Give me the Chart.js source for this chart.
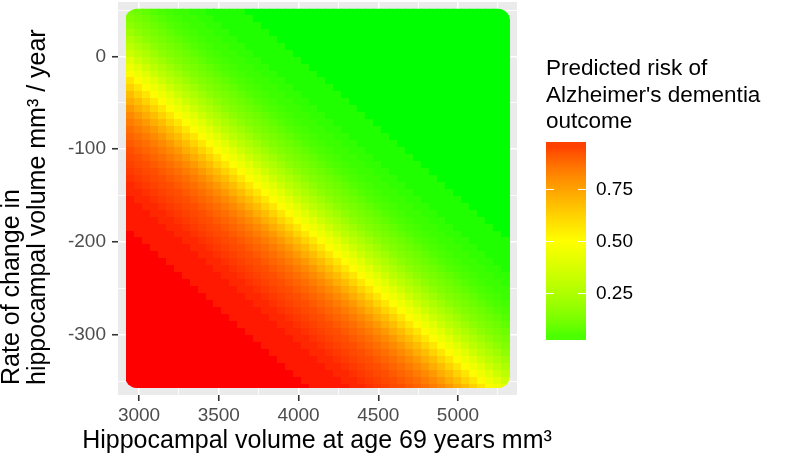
<!DOCTYPE html>
<html>
<head>
<meta charset="utf-8">
<script src="https://cdn.jsdelivr.net/npm/chart.js@4.4.1/dist/chart.umd.min.js"></script>
<style>
  html, body { margin: 0; padding: 0; background: #fff; }
</style>
</head>
<body>
<canvas id="myChart" width="788" height="466"></canvas>
<script>
// hippocampal volume (x) at the centre of each column of cells
const volumeCols = [2945, 2995, 3045, 3095, 3145, 3195, 3245, 3295, 3345, 3395, 3445, 3495,
                    3545, 3595, 3645, 3695, 3745, 3795, 3845, 3895, 3945, 3995, 4045, 4095,
                    4145, 4195, 4245, 4295, 4345, 4395, 4445, 4495, 4545, 4595, 4645, 4695,
                    4745, 4795, 4845, 4895, 4945, 4995, 5045, 5095, 5145, 5195, 5245, 5295];
// rate of change (y) at the centre of each row of cells, top to bottom
const rateRows = [48, 40.5, 33, 25.5, 18, 10.5, 3, -4.5, -12, -19.5, -27, -34.5, -42, -49.5,
                  -57, -64.5, -72, -79.5, -87, -94.5, -102, -109.5, -117, -124.5, -132, -139.5,
                  -147, -154.5, -162, -169.5, -177, -184.5, -192, -199.5, -207, -214.5, -222,
                  -229.5, -237, -244.5, -252, -259.5, -267, -274.5, -282, -289.5, -297, -304.5,
                  -312, -319.5, -327, -334.5, -342, -349.5, -357];
// predicted risk, one row per rateRows entry
const riskGrid = [
  [.12,.10,.08,.06,.05,.04,.03,.03,.02,.02,.01,.01,.01,.01,.01,0,0,0,0,0,0,0,0,0,0,0,0,0,0,0,0,0,0,0,0,0,0,0,0,0,0,0,0,0,0,0,0,0],
  [.14,.12,.10,.08,.06,.05,.04,.03,.03,.02,.02,.01,.01,.01,.01,.01,0,0,0,0,0,0,0,0,0,0,0,0,0,0,0,0,0,0,0,0,0,0,0,0,0,0,0,0,0,0,0,0],
  [.17,.14,.12,.10,.08,.06,.05,.04,.03,.03,.02,.02,.01,.01,.01,.01,.01,0,0,0,0,0,0,0,0,0,0,0,0,0,0,0,0,0,0,0,0,0,0,0,0,0,0,0,0,0,0,0],
  [.21,.17,.14,.12,.10,.08,.06,.05,.04,.03,.03,.02,.02,.01,.01,.01,.01,.01,0,0,0,0,0,0,0,0,0,0,0,0,0,0,0,0,0,0,0,0,0,0,0,0,0,0,0,0,0,0],
  [.25,.21,.17,.14,.12,.10,.08,.06,.05,.04,.03,.03,.02,.02,.01,.01,.01,.01,.01,0,0,0,0,0,0,0,0,0,0,0,0,0,0,0,0,0,0,0,0,0,0,0,0,0,0,0,0,0],
  [.29,.25,.21,.17,.14,.12,.10,.08,.06,.05,.04,.03,.03,.02,.02,.01,.01,.01,.01,.01,0,0,0,0,0,0,0,0,0,0,0,0,0,0,0,0,0,0,0,0,0,0,0,0,0,0,0,0],
  [.34,.29,.25,.21,.17,.14,.12,.10,.08,.06,.05,.04,.03,.03,.02,.02,.01,.01,.01,.01,.01,0,0,0,0,0,0,0,0,0,0,0,0,0,0,0,0,0,0,0,0,0,0,0,0,0,0,0],
  [.40,.34,.29,.25,.21,.17,.14,.12,.10,.08,.06,.05,.04,.03,.03,.02,.02,.01,.01,.01,.01,.01,0,0,0,0,0,0,0,0,0,0,0,0,0,0,0,0,0,0,0,0,0,0,0,0,0,0],
  [.45,.40,.34,.29,.25,.21,.17,.14,.12,.10,.08,.06,.05,.04,.03,.03,.02,.02,.01,.01,.01,.01,.01,0,0,0,0,0,0,0,0,0,0,0,0,0,0,0,0,0,0,0,0,0,0,0,0,0],
  [.51,.45,.40,.34,.29,.25,.21,.17,.14,.12,.10,.08,.06,.05,.04,.03,.03,.02,.02,.01,.01,.01,.01,.01,0,0,0,0,0,0,0,0,0,0,0,0,0,0,0,0,0,0,0,0,0,0,0,0],
  [.57,.51,.45,.40,.34,.29,.25,.21,.17,.14,.12,.10,.08,.06,.05,.04,.03,.03,.02,.02,.01,.01,.01,.01,.01,0,0,0,0,0,0,0,0,0,0,0,0,0,0,0,0,0,0,0,0,0,0,0],
  [.62,.57,.51,.45,.40,.34,.29,.25,.21,.17,.14,.12,.10,.08,.06,.05,.04,.03,.03,.02,.02,.01,.01,.01,.01,.01,0,0,0,0,0,0,0,0,0,0,0,0,0,0,0,0,0,0,0,0,0,0],
  [.68,.62,.57,.51,.45,.40,.34,.29,.25,.21,.17,.14,.12,.10,.08,.06,.05,.04,.03,.03,.02,.02,.01,.01,.01,.01,.01,0,0,0,0,0,0,0,0,0,0,0,0,0,0,0,0,0,0,0,0,0],
  [.72,.68,.62,.57,.51,.45,.40,.34,.29,.25,.21,.17,.14,.12,.10,.08,.06,.05,.04,.03,.03,.02,.02,.01,.01,.01,.01,.01,0,0,0,0,0,0,0,0,0,0,0,0,0,0,0,0,0,0,0,0],
  [.77,.72,.68,.62,.57,.51,.45,.40,.34,.29,.25,.21,.17,.14,.12,.10,.08,.06,.05,.04,.03,.03,.02,.02,.01,.01,.01,.01,.01,0,0,0,0,0,0,0,0,0,0,0,0,0,0,0,0,0,0,0],
  [.81,.77,.72,.68,.62,.57,.51,.45,.40,.34,.29,.25,.21,.17,.14,.12,.10,.08,.06,.05,.04,.03,.03,.02,.02,.01,.01,.01,.01,.01,0,0,0,0,0,0,0,0,0,0,0,0,0,0,0,0,0,0],
  [.84,.81,.77,.72,.68,.62,.57,.51,.45,.40,.34,.29,.25,.21,.17,.14,.12,.10,.08,.06,.05,.04,.03,.03,.02,.02,.01,.01,.01,.01,.01,0,0,0,0,0,0,0,0,0,0,0,0,0,0,0,0,0],
  [.87,.84,.81,.77,.72,.68,.62,.57,.51,.45,.40,.34,.29,.25,.21,.17,.14,.12,.10,.08,.06,.05,.04,.03,.03,.02,.02,.01,.01,.01,.01,.01,0,0,0,0,0,0,0,0,0,0,0,0,0,0,0,0],
  [.89,.87,.84,.81,.77,.72,.68,.62,.57,.51,.45,.40,.34,.29,.25,.21,.17,.14,.12,.10,.08,.06,.05,.04,.03,.03,.02,.02,.01,.01,.01,.01,.01,0,0,0,0,0,0,0,0,0,0,0,0,0,0,0],
  [.91,.89,.87,.84,.81,.77,.72,.68,.62,.57,.51,.45,.40,.34,.29,.25,.21,.17,.14,.12,.10,.08,.06,.05,.04,.03,.03,.02,.02,.01,.01,.01,.01,.01,0,0,0,0,0,0,0,0,0,0,0,0,0,0],
  [.93,.91,.89,.87,.84,.81,.77,.72,.68,.62,.57,.51,.45,.40,.34,.29,.25,.21,.17,.14,.12,.10,.08,.06,.05,.04,.03,.03,.02,.02,.01,.01,.01,.01,.01,0,0,0,0,0,0,0,0,0,0,0,0,0],
  [.94,.93,.91,.89,.87,.84,.81,.77,.72,.68,.62,.57,.51,.45,.40,.34,.29,.25,.21,.17,.14,.12,.10,.08,.06,.05,.04,.03,.03,.02,.02,.01,.01,.01,.01,.01,0,0,0,0,0,0,0,0,0,0,0,0],
  [.95,.94,.93,.91,.89,.87,.84,.81,.77,.72,.68,.62,.57,.51,.45,.40,.34,.29,.25,.21,.17,.14,.12,.10,.08,.06,.05,.04,.03,.03,.02,.02,.01,.01,.01,.01,.01,0,0,0,0,0,0,0,0,0,0,0],
  [.96,.95,.94,.93,.91,.89,.87,.84,.81,.77,.72,.68,.62,.57,.51,.45,.40,.34,.29,.25,.21,.17,.14,.12,.10,.08,.06,.05,.04,.03,.03,.02,.02,.01,.01,.01,.01,.01,0,0,0,0,0,0,0,0,0,0],
  [.97,.96,.95,.94,.93,.91,.89,.87,.84,.81,.77,.72,.68,.62,.57,.51,.45,.40,.34,.29,.25,.21,.17,.14,.12,.10,.08,.06,.05,.04,.03,.03,.02,.02,.01,.01,.01,.01,.01,0,0,0,0,0,0,0,0,0],
  [.98,.97,.96,.95,.94,.93,.91,.89,.87,.84,.81,.77,.72,.68,.62,.57,.51,.45,.40,.34,.29,.25,.21,.17,.14,.12,.10,.08,.06,.05,.04,.03,.03,.02,.02,.01,.01,.01,.01,.01,0,0,0,0,0,0,0,0],
  [.98,.98,.97,.96,.95,.94,.93,.91,.89,.87,.84,.81,.77,.72,.68,.62,.57,.51,.45,.40,.34,.29,.25,.21,.17,.14,.12,.10,.08,.06,.05,.04,.03,.03,.02,.02,.01,.01,.01,.01,.01,0,0,0,0,0,0,0],
  [.99,.98,.98,.97,.96,.95,.94,.93,.91,.89,.87,.84,.81,.77,.72,.68,.62,.57,.51,.45,.40,.34,.29,.25,.21,.17,.14,.12,.10,.08,.06,.05,.04,.03,.03,.02,.02,.01,.01,.01,.01,.01,0,0,0,0,0,0],
  [.99,.99,.98,.98,.97,.96,.95,.94,.93,.91,.89,.87,.84,.81,.77,.72,.68,.62,.57,.51,.45,.40,.34,.29,.25,.21,.17,.14,.12,.10,.08,.06,.05,.04,.03,.03,.02,.02,.01,.01,.01,.01,.01,0,0,0,0,0],
  [.99,.99,.99,.98,.98,.97,.96,.95,.94,.93,.91,.89,.87,.84,.81,.77,.72,.68,.62,.57,.51,.45,.40,.34,.29,.25,.21,.17,.14,.12,.10,.08,.06,.05,.04,.03,.03,.02,.02,.01,.01,.01,.01,.01,0,0,0,0],
  [.99,.99,.99,.99,.98,.98,.97,.96,.95,.94,.93,.91,.89,.87,.84,.81,.77,.72,.68,.62,.57,.51,.45,.40,.34,.29,.25,.21,.17,.14,.12,.10,.08,.06,.05,.04,.03,.03,.02,.02,.01,.01,.01,.01,.01,0,0,0],
  [.99,.99,.99,.99,.99,.98,.98,.97,.96,.95,.94,.93,.91,.89,.87,.84,.81,.77,.72,.68,.62,.57,.51,.45,.40,.34,.29,.25,.21,.17,.14,.12,.10,.08,.06,.05,.04,.03,.03,.02,.02,.01,.01,.01,.01,.01,0,0],
  [1,.99,.99,.99,.99,.99,.98,.98,.97,.96,.95,.94,.93,.91,.89,.87,.84,.81,.77,.72,.68,.62,.57,.51,.45,.40,.34,.29,.25,.21,.17,.14,.12,.10,.08,.06,.05,.04,.03,.03,.02,.02,.01,.01,.01,.01,.01,0],
  [1,1,.99,.99,.99,.99,.99,.98,.98,.97,.96,.95,.94,.93,.91,.89,.87,.84,.81,.77,.72,.68,.62,.57,.51,.45,.40,.34,.29,.25,.21,.17,.14,.12,.10,.08,.06,.05,.04,.03,.03,.02,.02,.01,.01,.01,.01,.01],
  [1,1,1,.99,.99,.99,.99,.99,.98,.98,.97,.96,.95,.94,.93,.91,.89,.87,.84,.81,.77,.72,.68,.62,.57,.51,.45,.40,.34,.29,.25,.21,.17,.14,.12,.10,.08,.06,.05,.04,.03,.03,.02,.02,.01,.01,.01,.01],
  [1,1,1,1,.99,.99,.99,.99,.99,.98,.98,.97,.96,.95,.94,.93,.91,.89,.87,.84,.81,.77,.72,.68,.62,.57,.51,.45,.40,.34,.29,.25,.21,.17,.14,.12,.10,.08,.06,.05,.04,.03,.03,.02,.02,.01,.01,.01],
  [1,1,1,1,1,.99,.99,.99,.99,.99,.98,.98,.97,.96,.95,.94,.93,.91,.89,.87,.84,.81,.77,.72,.68,.62,.57,.51,.45,.40,.34,.29,.25,.21,.17,.14,.12,.10,.08,.06,.05,.04,.03,.03,.02,.02,.01,.01],
  [1,1,1,1,1,1,.99,.99,.99,.99,.99,.98,.98,.97,.96,.95,.94,.93,.91,.89,.87,.84,.81,.77,.72,.68,.62,.57,.51,.45,.40,.34,.29,.25,.21,.17,.14,.12,.10,.08,.06,.05,.04,.03,.03,.02,.02,.01],
  [1,1,1,1,1,1,1,.99,.99,.99,.99,.99,.98,.98,.97,.96,.95,.94,.93,.91,.89,.87,.84,.81,.77,.72,.68,.62,.57,.51,.45,.40,.34,.29,.25,.21,.17,.14,.12,.10,.08,.06,.05,.04,.03,.03,.02,.02],
  [1,1,1,1,1,1,1,1,.99,.99,.99,.99,.99,.98,.98,.97,.96,.95,.94,.93,.91,.89,.87,.84,.81,.77,.72,.68,.62,.57,.51,.45,.40,.34,.29,.25,.21,.17,.14,.12,.10,.08,.06,.05,.04,.03,.03,.02],
  [1,1,1,1,1,1,1,1,1,.99,.99,.99,.99,.99,.98,.98,.97,.96,.95,.94,.93,.91,.89,.87,.84,.81,.77,.72,.68,.62,.57,.51,.45,.40,.34,.29,.25,.21,.17,.14,.12,.10,.08,.06,.05,.04,.03,.03],
  [1,1,1,1,1,1,1,1,1,1,.99,.99,.99,.99,.99,.98,.98,.97,.96,.95,.94,.93,.91,.89,.87,.84,.81,.77,.72,.68,.62,.57,.51,.45,.40,.34,.29,.25,.21,.17,.14,.12,.10,.08,.06,.05,.04,.03],
  [1,1,1,1,1,1,1,1,1,1,1,.99,.99,.99,.99,.99,.98,.98,.97,.96,.95,.94,.93,.91,.89,.87,.84,.81,.77,.72,.68,.62,.57,.51,.45,.40,.34,.29,.25,.21,.17,.14,.12,.10,.08,.06,.05,.04],
  [1,1,1,1,1,1,1,1,1,1,1,1,.99,.99,.99,.99,.99,.98,.98,.97,.96,.95,.94,.93,.91,.89,.87,.84,.81,.77,.72,.68,.62,.57,.51,.45,.40,.34,.29,.25,.21,.17,.14,.12,.10,.08,.06,.05],
  [1,1,1,1,1,1,1,1,1,1,1,1,1,.99,.99,.99,.99,.99,.98,.98,.97,.96,.95,.94,.93,.91,.89,.87,.84,.81,.77,.72,.68,.62,.57,.51,.45,.40,.34,.29,.25,.21,.17,.14,.12,.10,.08,.06],
  [1,1,1,1,1,1,1,1,1,1,1,1,1,1,.99,.99,.99,.99,.99,.98,.98,.97,.96,.95,.94,.93,.91,.89,.87,.84,.81,.77,.72,.68,.62,.57,.51,.45,.40,.34,.29,.25,.21,.17,.14,.12,.10,.08],
  [1,1,1,1,1,1,1,1,1,1,1,1,1,1,1,.99,.99,.99,.99,.99,.98,.98,.97,.96,.95,.94,.93,.91,.89,.87,.84,.81,.77,.72,.68,.62,.57,.51,.45,.40,.34,.29,.25,.21,.17,.14,.12,.10],
  [1,1,1,1,1,1,1,1,1,1,1,1,1,1,1,1,.99,.99,.99,.99,.99,.98,.98,.97,.96,.95,.94,.93,.91,.89,.87,.84,.81,.77,.72,.68,.62,.57,.51,.45,.40,.34,.29,.25,.21,.17,.14,.12],
  [1,1,1,1,1,1,1,1,1,1,1,1,1,1,1,1,1,.99,.99,.99,.99,.99,.98,.98,.97,.96,.95,.94,.93,.91,.89,.87,.84,.81,.77,.72,.68,.62,.57,.51,.45,.40,.34,.29,.25,.21,.17,.14],
  [1,1,1,1,1,1,1,1,1,1,1,1,1,1,1,1,1,1,.99,.99,.99,.99,.99,.98,.98,.97,.96,.95,.94,.93,.91,.89,.87,.84,.81,.77,.72,.68,.62,.57,.51,.45,.40,.34,.29,.25,.21,.17],
  [1,1,1,1,1,1,1,1,1,1,1,1,1,1,1,1,1,1,1,.99,.99,.99,.99,.99,.98,.98,.97,.96,.95,.94,.93,.91,.89,.87,.84,.81,.77,.72,.68,.62,.57,.51,.45,.40,.34,.29,.25,.21],
  [1,1,1,1,1,1,1,1,1,1,1,1,1,1,1,1,1,1,1,1,.99,.99,.99,.99,.99,.98,.98,.97,.96,.95,.94,.93,.91,.89,.87,.84,.81,.77,.72,.68,.62,.57,.51,.45,.40,.34,.29,.25],
  [1,1,1,1,1,1,1,1,1,1,1,1,1,1,1,1,1,1,1,1,1,.99,.99,.99,.99,.99,.98,.98,.97,.96,.95,.94,.93,.91,.89,.87,.84,.81,.77,.72,.68,.62,.57,.51,.45,.40,.34,.29],
  [1,1,1,1,1,1,1,1,1,1,1,1,1,1,1,1,1,1,1,1,1,1,.99,.99,.99,.99,.99,.98,.98,.97,.96,.95,.94,.93,.91,.89,.87,.84,.81,.77,.72,.68,.62,.57,.51,.45,.40,.34],
  [1,1,1,1,1,1,1,1,1,1,1,1,1,1,1,1,1,1,1,1,1,1,1,.99,.99,.99,.99,.99,.98,.98,.97,.96,.95,.94,.93,.91,.89,.87,.84,.81,.77,.72,.68,.62,.57,.51,.45,.40]
];
const xTickLabels = [3000, 3500, 4000, 4500, 5000];
const xGridLines = [3000, 3250, 3500, 3750, 4000, 4250, 4500, 4750, 5000, 5250];
const yTickLabels = [0, -100, -200, -300];
const yGridLines = [50, 0, -50, -100, -150, -200, -250, -300, -350];
const legendBreaks = [0.25, 0.50, 0.75];
const legendRange = [0.05, 0.95];

const FONT = '"Liberation Sans", Arial, Helvetica, sans-serif';

// green -> yellow -> red, mixed in Lab like ggplot's gradient2
function toLin(c) { c /= 255; return c <= 0.04045 ? c / 12.92 : Math.pow((c + 0.055) / 1.055, 2.4); }
function fromLin(c) { c = c <= 0.0031308 ? 12.92 * c : 1.055 * Math.pow(c, 1 / 2.4) - 0.055; return Math.max(0, Math.min(255, Math.round(c * 255))); }
function rgbToLab(r, g, b) {
  const R = toLin(r), G = toLin(g), B = toLin(b);
  const f = t => t > 0.008856 ? Math.cbrt(t) : 7.787 * t + 16 / 116;
  const fx = f((0.4124 * R + 0.3576 * G + 0.1805 * B) / 0.95047);
  const fy = f(0.2126 * R + 0.7152 * G + 0.0722 * B);
  const fz = f((0.0193 * R + 0.1192 * G + 0.9505 * B) / 1.08883);
  return [116 * fy - 16, 500 * (fx - fy), 200 * (fy - fz)];
}
function labToRgb(L, a, b) {
  const fy = (L + 16) / 116, fx = fy + a / 500, fz = fy - b / 200;
  const inv = t => t * t * t > 0.008856 ? t * t * t : (t - 16 / 116) / 7.787;
  const X = inv(fx) * 0.95047, Y = inv(fy), Z = inv(fz) * 1.08883;
  const R = 3.2406 * X - 1.5372 * Y - 0.4986 * Z;
  const G = -0.9689 * X + 1.8758 * Y + 0.0415 * Z;
  const B = 0.0557 * X - 0.2040 * Y + 1.0570 * Z;
  return [fromLin(R), fromLin(G), fromLin(B)];
}
const labLow = rgbToLab(0, 255, 0), labMid = rgbToLab(255, 255, 0), labHigh = rgbToLab(255, 0, 0);
function riskColor(v) {
  let a, b, t;
  if (v < 0.5) { a = labLow; b = labMid; t = v / 0.5; } else { a = labMid; b = labHigh; t = (v - 0.5) / 0.5; }
  const c = labToRgb(a[0] + (b[0] - a[0]) * t, a[1] + (b[1] - a[1]) * t, a[2] + (b[2] - a[2]) * t);
  return 'rgb(' + c[0] + ',' + c[1] + ',' + c[2] + ')';
}

// one little canvas per colour, used as the point style of a cell
const cellCache = {};
function cellCanvas(color, w, h) {
  const key = color + w + 'x' + h;
  if (!cellCache[key]) {
    const c = document.createElement('canvas');
    c.width = w; c.height = h;
    const g = c.getContext('2d');
    g.fillStyle = color;
    g.fillRect(0, 0, w, h);
    cellCache[key] = c;
  }
  return cellCache[key];
}

const cells = [];
rateRows.forEach((y, j) => {
  volumeCols.forEach((x, i) => {
    cells.push({ x: x, y: y, v: riskGrid[j][i] });
  });
});

const colStep = volumeCols[1] - volumeCols[0];
const rowStep = rateRows[0] - rateRows[1];

// panel background
const panelBg = {
  id: 'panelBg',
  beforeDraw(chart) {
    const a = chart.chartArea, ctx = chart.ctx;
    ctx.save();
    ctx.fillStyle = '#EBEBEB';
    ctx.fillRect(a.left, a.top, a.right - a.left, a.bottom - a.top);
    ctx.restore();
  }
};

// the points in the original are big round dots: clip the tiles to a rounded block
const roundClip = {
  id: 'roundClip',
  beforeDatasetsDraw(chart) {
    const xs = chart.scales.x, ys = chart.scales.y, ctx = chart.ctx;
    const l = xs.getPixelForValue(2912), r = xs.getPixelForValue(5326);
    const t = ys.getPixelForValue(51.5), b = ys.getPixelForValue(-357.5);
    const rad = 12;
    ctx.save();
    ctx.beginPath();
    ctx.moveTo(l + rad, t);
    ctx.arcTo(r, t, r, b, rad);
    ctx.arcTo(r, b, l, b, rad);
    ctx.arcTo(l, b, l, t, rad);
    ctx.arcTo(l, t, r, t, rad);
    ctx.closePath();
    ctx.clip();
  },
  afterDatasetsDraw(chart) {
    chart.ctx.restore();
  }
};

// axis titles and the colour bar legend
const labels = {
  id: 'labels',
  afterDraw(chart) {
    const ctx = chart.ctx;
    ctx.save();
    ctx.fillStyle = '#000';
    ctx.font = '25px ' + FONT;
    ctx.textBaseline = 'middle';

    ctx.textAlign = 'center';
    ctx.fillText('Hippocampal volume at age 69 years mm³', 317, 441);

    ctx.save();
    ctx.translate(12, 385);
    ctx.rotate(-Math.PI / 2);
    ctx.textAlign = 'left';
    ctx.fillText('Rate of change in', 0, 0);
    ctx.fillText('hippocampal volume mm³ / year', 0, 26);
    ctx.restore();

    ctx.textAlign = 'left';
    ctx.font = '22.5px ' + FONT;
    ctx.fillText('Predicted risk of', 546, 69);
    ctx.fillText("Alzheimer's dementia", 546, 96);
    ctx.fillText('outcome', 546, 122);

    // colour bar: 0.5 sits at y=241, 0.25 spans 52px
    const barL = 546, barR = 586, barT = 142, barB = 340;
    const valToY = v => 241 - (v - 0.5) * 208;
    for (let y = barT; y < barB; y++) {
      let v = 0.5 + (241 - (y + 0.5)) / 208;
      v = Math.max(legendRange[0], Math.min(legendRange[1], v));
      ctx.fillStyle = riskColor(v);
      ctx.fillRect(barL, y, barR - barL, 1);
    }
    ctx.strokeStyle = '#fff';
    ctx.lineWidth = 1.2;
    ctx.font = '19px ' + FONT;
    legendBreaks.forEach(v => {
      const y = Math.round(valToY(v)) + 0.5;
      ctx.beginPath();
      ctx.moveTo(barL, y); ctx.lineTo(barL + 8, y);
      ctx.moveTo(barR - 8, y); ctx.lineTo(barR, y);
      ctx.stroke();
      ctx.fillStyle = '#000';
      ctx.fillText(v.toFixed(2), 596, y);
    });
    ctx.restore();
  }
};

const isMajorX = v => xTickLabels.includes(v);
const isMajorY = v => yTickLabels.includes(v);

new Chart(document.getElementById('myChart'), {
  type: 'scatter',
  data: {
    datasets: [{
      data: cells,
      pointRadius: 9,
      pointStyle: ctx => {
        const xs = ctx.chart.scales.x, ys = ctx.chart.scales.y;
        const w = Math.ceil(Math.abs(xs.getPixelForValue(colStep) - xs.getPixelForValue(0))) + 1;
        const h = Math.ceil(Math.abs(ys.getPixelForValue(rowStep) - ys.getPixelForValue(0))) + 1;
        return cellCanvas(riskColor(ctx.raw.v), w, h);
      }
    }]
  },
  plugins: [panelBg, roundClip, labels],
  options: {
    responsive: false,
    animation: false,
    events: [],
    layout: { autoPadding: false, padding: { left: 0, right: 271, top: 2, bottom: 0 } },
    plugins: { legend: { display: false }, tooltip: { enabled: false } },
    scales: {
      x: {
        type: 'linear',
        min: 2868,
        max: 5370,
        afterBuildTicks: s => { s.ticks = xGridLines.map(v => ({ value: v })); },
        afterFit: s => { s.height = 71; s.paddingLeft = 0; s.paddingRight = 0; },
        border: { display: false },
        grid: {
          color: '#FFFFFF',
          lineWidth: c => (c.tick && isMajorX(c.tick.value)) ? 1.5 : 0.8,
          tickColor: c => (c.tick && isMajorX(c.tick.value)) ? '#333333' : 'rgba(0,0,0,0)',
          tickWidth: 1.6,
          tickLength: 6
        },
        ticks: {
          autoSkip: false,
          maxRotation: 0,
          padding: 3,
          color: '#4D4D4D',
          font: { family: FONT, size: 19 },
          callback: v => isMajorX(v) ? String(v) : ''
        }
      },
      y: {
        type: 'linear',
        min: -365,
        max: 58.7,
        afterBuildTicks: s => { s.ticks = yGridLines.map(v => ({ value: v })); },
        afterFit: s => { s.width = 118; s.paddingTop = 0; s.paddingBottom = 0; },
        border: { display: false },
        grid: {
          color: '#FFFFFF',
          lineWidth: c => (c.tick && isMajorY(c.tick.value)) ? 1.5 : 0.8,
          tickColor: c => (c.tick && isMajorY(c.tick.value)) ? '#333333' : 'rgba(0,0,0,0)',
          tickWidth: 1.6,
          tickLength: 6
        },
        ticks: {
          autoSkip: false,
          padding: 6,
          color: '#4D4D4D',
          font: { family: FONT, size: 19, lineHeight: 0.2 },
          callback: v => isMajorY(v) ? String(v) : ''
        }
      }
    }
  }
});
</script>
</body>
</html>
